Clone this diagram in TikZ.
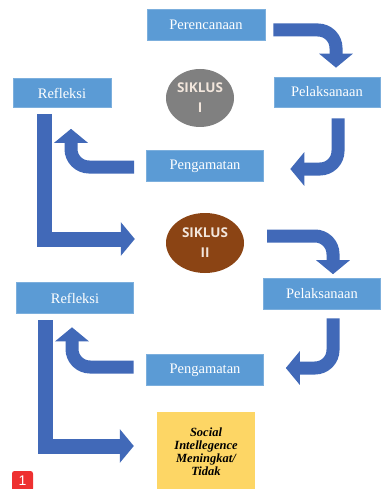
\documentclass[tikz,border=0pt]{standalone}
\usepackage{fontspec}
\setmainfont{Liberation Serif}
\newfontfamily\siklusfont{Open Sans}
\newfontfamily\badgefont{Liberation Sans}
\usetikzlibrary{arrows.meta,shapes.geometric}
\definecolor{boxblue}{HTML}{5B9BD5}
\definecolor{arrowblue}{HTML}{4169B8}
\definecolor{cyclegrey}{HTML}{808080}
\definecolor{cyclebrown}{HTML}{8B4414}
\definecolor{outyellow}{HTML}{FDD665}
\definecolor{badgered}{HTML}{EE3030}
\definecolor{siklustext}{HTML}{F2E6DC}
\tikzset{
  stage/.style={rectangle, fill=boxblue, draw=boxblue!80!white, line width=0.6pt,
    text=white, font=\fontsize{14.5}{16}\selectfont, inner sep=0pt},
  cycle/.style={ellipse, inner sep=0pt, text=siklustext,
    font=\siklusfont\bfseries\fontsize{13.5}{20}\selectfont, align=center},
  blockarrow/.style={draw=arrowblue, line width=13pt,
    -{Triangle[width=33pt,length=14pt]}},
  bendarrow/.style={blockarrow, rounded corners=18pt},
}
\begin{document}
\begin{tikzpicture}[x=1pt,y=-1pt]
\useasboundingbox (0,0) rectangle (380,489);
% stage boxes
\node[stage, minimum width=118pt, minimum height=31pt] (per) at (206,25) {Perencanaan};
\node[stage, minimum width=106pt, minimum height=30pt] (pel1) at (327,92) {Pelaksanaan};
\node[stage, minimum width=98pt, minimum height=29pt] (ref1) at (62,93) {Refleksi};
\node[stage, minimum width=117pt, minimum height=31pt] (pen1) at (205,166) {Pengamatan};
\node[stage, minimum width=117pt, minimum height=31pt] (pel2) at (322,294) {Pelaksanaan};
\node[stage, minimum width=117pt, minimum height=31pt] (ref2) at (75,298) {Refleksi};
\node[stage, minimum width=117pt, minimum height=31pt] (pen2) at (205,370) {Pengamatan};
% cycles
\node[cycle, fill=cyclegrey, minimum width=68pt, minimum height=58pt] (s1) at (200,98) {SIKLUS\\I};
\node[cycle, fill=cyclebrown, minimum width=78pt, minimum height=60pt] (s2) at (205,243) {SIKLUS\\II};
% result
\node[rectangle, fill=outyellow, minimum width=98pt, minimum height=80pt, inner sep=0pt,
  align=center, font=\fontsize{12.5}{13}\selectfont\bfseries\itshape] (res) at (206,452)
  {Social\\Intellegence\\Meningkat/\\Tidak};
% badge
\node[rectangle, rounded corners=2.5pt, fill=badgered, minimum width=21pt, minimum height=20pt,
  inner sep=0pt, text=white, font=\badgefont\fontsize{14}{14}\selectfont] (badge) at (22.5,481) {1};
% cycle I arrows
\draw[bendarrow] ([xshift=8pt,yshift=-5pt]per.east) -| ([xshift=9pt,yshift=9pt]pel1.north);
\draw[bendarrow] ([xshift=11pt,yshift=-11pt]pel1.south) |- ([xshift=-90pt,yshift=-3pt]pel1.east |- pen1.east);
\draw[bendarrow] ([xshift=-12pt,yshift=-1pt]pen1.west) -| ([xshift=9pt,yshift=-21pt]ref1.south);
\draw[blockarrow, line width=15pt] ([xshift=-17.5pt,yshift=-6pt]ref1.south) |- ([xshift=-31pt,yshift=4pt]s2.west);
% cycle II arrows
\draw[bendarrow] ([xshift=23pt,yshift=7pt]s2.east) -| ([xshift=11pt,yshift=4pt]pel2.north);
\draw[bendarrow] ([xshift=11pt,yshift=-8.5pt]pel2.south) |- ([xshift=22pt,yshift=2pt]pen2.east);
\draw[bendarrow] ([xshift=-12.5pt,yshift=3pt]pen2.west) -| ([xshift=-3pt,yshift=-13.5pt]ref2.south);
\draw[blockarrow, line width=15pt] ([xshift=-29.5pt,yshift=-6.5pt]ref2.south) |- ([xshift=-23pt,yshift=6pt]res.west);
\end{tikzpicture}
\end{document}
